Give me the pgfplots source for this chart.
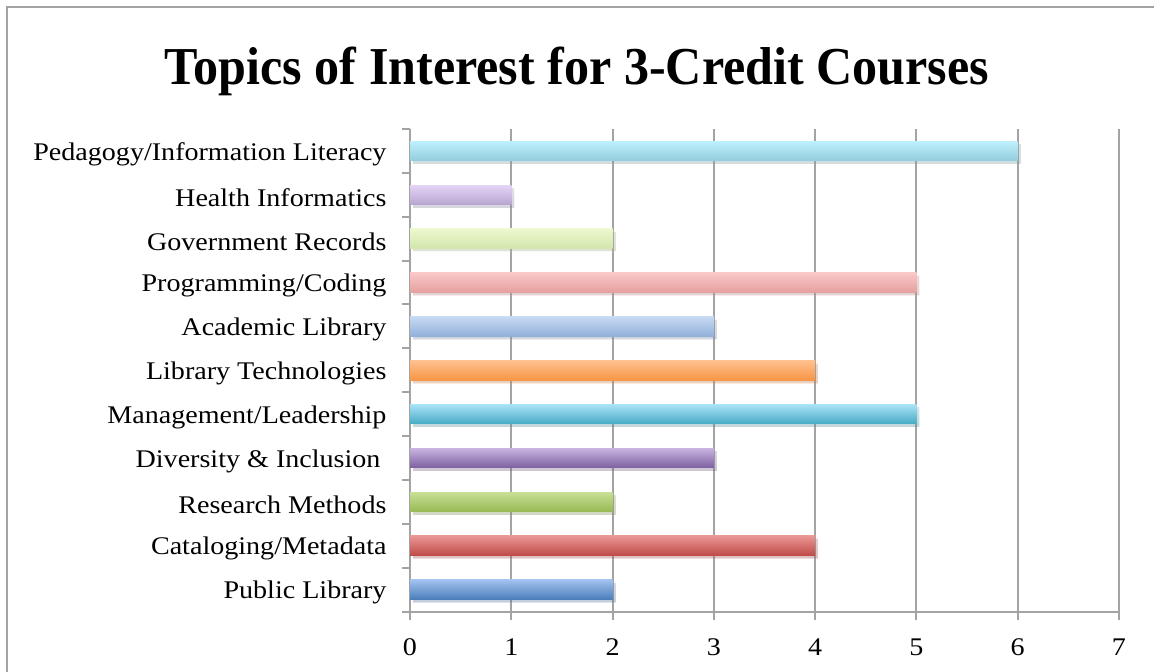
\documentclass[border=0pt]{standalone}
\usepackage{pgfplots}
\pgfplotsset{compat=1.18}
\usepackage{fontspec}
\setmainfont{Liberation Serif}[FakeStretch=1.105]
\newfontfamily\titlefont{Liberation Serif}[FakeStretch=0.94]
\usetikzlibrary{shadows}
\definecolor{gridc}{HTML}{A3A3A3}
\begin{document}
\begin{tikzpicture}
\path[use as bounding box] (0bp,0bp) rectangle (1154bp,-672bp);
\draw[gridc, line width=1.8bp] (7bp,-672bp) -- (7bp,-7bp) -- (1154bp,-7bp);
\node[font=\titlefont\fontsize{53.5}{54}\selectfont\bfseries] at (577bp,-71bp) {Topics of Interest for 3-Credit Courses};
\begin{axis}[
  at={(410bp,-611.5bp)}, anchor=south west,
  scale only axis, width=709bp, height=482.5bp,
  xbar, bar width=19.5bp,
  every axis plot/.append style={bar shift=0pt, draw=none},
  xmin=0, xmax=7, ymin=-0.5, ymax=10.5,
  xtick={0,...,7},
  ytick={0,...,10},
  yticklabels={Public Library,Cataloging/Metadata,Research Methods,Diversity \& Inclusion\rule{6bp}{0pt},Management/Leadership,Library Technologies,Academic Library,Programming/Coding,Government Records,Health Informatics,Pedagogy/Information Literacy},
  minor ytick={-0.5,0.5,...,10.5},
  major y tick style={draw=none},
  minor tick length=8bp, major tick length=8bp,
  tick align=outside,
  xtick pos=bottom, ytick pos=left,
  axis x line*=bottom, axis y line*=left,
  axis line style={gridc, line width=2bp, -},
  tick style={gridc, line width=2bp},
  xmajorgrids, major grid style={gridc, line width=2bp},
  /pgf/number format/assume math mode=true,
  ticklabel style={font=\fontsize{25.5}{26}\selectfont},
  yticklabel style={xshift=-12bp, yshift=-3bp},
  xticklabel style={yshift=-16bp},
  clip=false,
]
\pgfplotsset{shb/.style={drop shadow={shadow xshift=3bp, shadow yshift=-3bp, opacity=0.2, fill=black!60}}}
\addplot[top color={rgb,255:red,163;green,194;blue,238}, bottom color={rgb,255:red,74;green,126;blue,187}, shb] coordinates {(2,0)};
\addplot[top color={rgb,255:red,234;green,150;blue,148}, bottom color={rgb,255:red,190;green,75;blue,72}, shb] coordinates {(4,1)};
\addplot[top color={rgb,255:red,200;green,224;blue,150}, bottom color={rgb,255:red,152;green,185;blue,84}, shb] coordinates {(2,2)};
\addplot[top color={rgb,255:red,200;green,180;blue,224}, bottom color={rgb,255:red,125;green,96;blue,160}, shb] coordinates {(3,3)};
\addplot[top color={rgb,255:red,168;green,228;blue,246}, bottom color={rgb,255:red,70;green,170;blue,197}, shb] coordinates {(5,4)};
\addplot[top color={rgb,255:red,255;green,192;blue,142}, bottom color={rgb,255:red,247;green,150;blue,70}, shb] coordinates {(4,5)};
\addplot[top color={rgb,255:red,200;green,218;blue,244}, bottom color={rgb,255:red,145;green,176;blue,216}, shb] coordinates {(3,6)};
\addplot[top color={rgb,255:red,250;green,200;blue,200}, bottom color={rgb,255:red,228;green,160;blue,158}, shb] coordinates {(5,7)};
\addplot[top color={rgb,255:red,236;green,248;blue,206}, bottom color={rgb,255:red,210;green,230;blue,172}, shb] coordinates {(2,8)};
\addplot[top color={rgb,255:red,228;green,212;blue,246}, bottom color={rgb,255:red,183;green,165;blue,208}, shb] coordinates {(1,9)};
\addplot[top color={rgb,255:red,190;green,240;blue,252}, bottom color={rgb,255:red,147;green,205;blue,221}, shb] coordinates {(6,10)};
\end{axis}
\end{tikzpicture}
\end{document}
